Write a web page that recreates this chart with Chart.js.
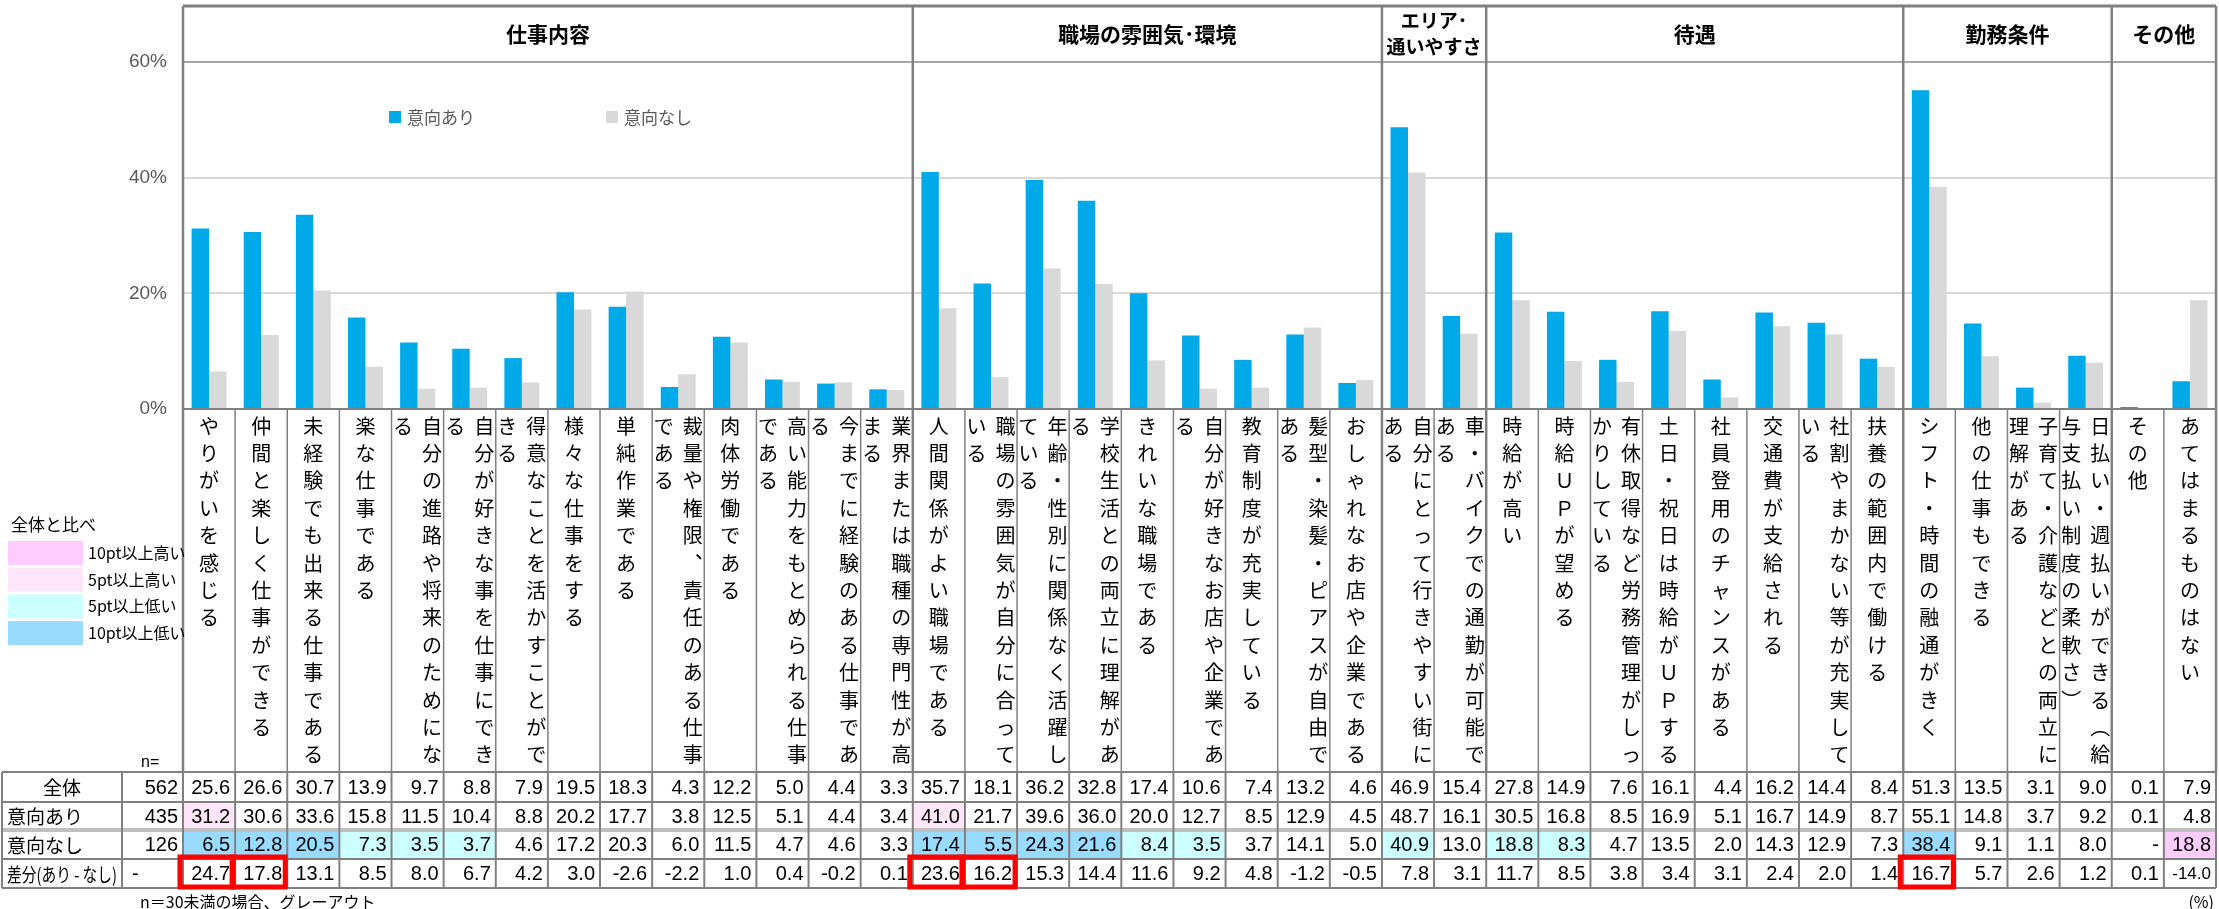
<!DOCTYPE html>
<html>
<head>
<meta charset="utf-8">
<script src="https://cdn.jsdelivr.net/npm/chart.js@4"></script>
<style>
	body { margin: 0; background: #fff; }
	canvas { display: block; }
</style>
</head>
<body>
<canvas id="chart" width="2219" height="909"></canvas>
<script>
const groups = ['仕事内容', '職場の雰囲気･環境', 'エリア･\n通いやすさ', '待遇', '勤務条件', 'その他']
const groupSizes = [14, 9, 2, 8, 4, 2]

const categories = [
	'やりがいを感じる', '仲間と楽しく仕事ができる', '未経験でも出来る仕事である', '楽な仕事である',
	'自分の進路や将来のためになる', '自分が好きな事を仕事にできる', '得意なことを活かすことができる',
	'様々な仕事をする', '単純作業である', '裁量や権限、責任のある仕事である', '肉体労働である',
	'高い能力をもとめられる仕事である', '今までに経験のある仕事である', '業界または職種の専門性が高まる',
	'人間関係がよい職場である', '職場の雰囲気が自分に合っている', '年齢・性別に関係なく活躍している',
	'学校生活との両立に理解がある', 'きれいな職場である', '自分が好きなお店や企業である',
	'教育制度が充実している', '髪型・染髪・ピアスが自由である', 'おしゃれなお店や企業である',
	'自分にとって行きやすい街にある', '車・バイクでの通勤が可能である',
	'時給が高い', '時給ＵＰが望める', '有休取得など労務管理がしっかりしている', '土日・祝日は時給がＵＰする',
	'社員登用のチャンスがある', '交通費が支給される', '社割やまかない等が充実している', '扶養の範囲内で働ける',
	'シフト・時間の融通がきく', '他の仕事もできる', '子育て・介護などとの両立に理解がある',
	'日払い・週払いができる（給与支払い制度の柔軟さ）',
	'その他', 'あてはまるものはない'
]

const total = [25.6, 26.6, 30.7, 13.9, 9.7, 8.8, 7.9, 19.5, 18.3, 4.3, 12.2, 5.0, 4.4, 3.3,
	35.7, 18.1, 36.2, 32.8, 17.4, 10.6, 7.4, 13.2, 4.6,
	46.9, 15.4,
	27.8, 14.9, 7.6, 16.1, 4.4, 16.2, 14.4, 8.4,
	51.3, 13.5, 3.1, 9.0,
	0.1, 7.9]
const withIntent = [31.2, 30.6, 33.6, 15.8, 11.5, 10.4, 8.8, 20.2, 17.7, 3.8, 12.5, 5.1, 4.4, 3.4,
	41.0, 21.7, 39.6, 36.0, 20.0, 12.7, 8.5, 12.9, 4.5,
	48.7, 16.1,
	30.5, 16.8, 8.5, 16.9, 5.1, 16.7, 14.9, 8.7,
	55.1, 14.8, 3.7, 9.2,
	0.1, 4.8]
const withoutIntent = [6.5, 12.8, 20.5, 7.3, 3.5, 3.7, 4.6, 17.2, 20.3, 6.0, 11.5, 4.7, 4.6, 3.3,
	17.4, 5.5, 24.3, 21.6, 8.4, 3.5, 3.7, 14.1, 5.0,
	40.9, 13.0,
	18.8, 8.3, 4.7, 13.5, 2.0, 14.3, 12.9, 7.3,
	38.4, 9.1, 1.1, 8.0,
	null, 18.8]
const diff = [24.7, 17.8, 13.1, 8.5, 8.0, 6.7, 4.2, 3.0, -2.6, -2.2, 1.0, 0.4, -0.2, 0.1,
	23.6, 16.2, 15.3, 14.4, 11.6, 9.2, 4.8, -1.2, -0.5,
	7.8, 3.1,
	11.7, 8.5, 3.8, 3.4, 3.1, 2.4, 2.0, 1.4,
	16.7, 5.7, 2.6, 1.2,
	0.1, -14.0]

const rowNames = ['全体', '意向あり', '意向なし', '差分(あり - なし)']
const sampleSizes = ['562', '435', '126', '-']
const boxedDiffs = [0, 1, 14, 15, 33]

const shadeLabels = ['10pt以上高い', '5pt以上高い', '5pt以上低い', '10pt以上低い']
const shadeColors = ['#FFCCFF', '#FFE5FA', '#CCFFFF', '#99DBFF']

const JP = '"Noto Sans CJK JP", sans-serif'
const NUM = '"Liberation Sans", "Noto Sans CJK JP", sans-serif'
const LINE = '#808080'

const verticalForms = { '、': '︑', '（': '︵', '）': '︶', '。': '︒' }

function shade(v, base) {
	if (v === null) return null
	const d = v - base
	if (d >= 10) return shadeColors[0]
	if (d >= 5) return shadeColors[1]
	if (d <= -10) return shadeColors[3]
	if (d <= -5) return shadeColors[2]
	return null
}

function line(ctx, x1, y1, x2, y2, color, width) {
	ctx.strokeStyle = color
	ctx.lineWidth = width
	ctx.beginPath()
	ctx.moveTo(x1, y1)
	ctx.lineTo(x2, y2)
	ctx.stroke()
}

const overlay = {
	id: 'overlay',
	afterDraw(chart) {
		const ctx = chart.ctx
		const x = chart.scales.x
		const area = chart.chartArea
		const colW = x.width / categories.length
		const colLeft = i => x.getPixelForValue(i) - colW / 2
		const L = area.left, R = area.right
		const headTop = 6
		const rows = [772, 802, 830, 859, 888]
		ctx.save()

		// group boundaries
		const bounds = [0]
		groupSizes.forEach(n => bounds.push(bounds[bounds.length - 1] + n))

		// header row
		line(ctx, L, headTop, R, headTop, LINE, 3)
		line(ctx, L, area.top, R, area.top, '#A6A6A6', 2)
		ctx.fillStyle = '#000'
		ctx.font = 'bold 21px ' + JP
		ctx.textAlign = 'center'
		ctx.textBaseline = 'middle'
		groups.forEach((g, k) => {
			const cx = (colLeft(bounds[k]) + colLeft(bounds[k + 1])) / 2
			const parts = g.split('\n')
			if (parts.length === 1) {
				ctx.fillText(g, cx, 34)
			} else {
				ctx.font = 'bold 19px ' + JP
				ctx.fillText(parts[0], cx, 21)
				ctx.fillText(parts[1], cx, 47)
				ctx.font = 'bold 21px ' + JP
			}
		})

		// group separators through header and plot
		bounds.forEach(b => line(ctx, colLeft(b), headTop, colLeft(b), area.bottom, LINE, 2.5))

		// legend inside plot
		ctx.font = '17px ' + JP
		ctx.textAlign = 'left'
		chart.data.datasets.forEach((ds, k) => {
			const lx = [389, 606][k]
			ctx.fillStyle = ds.backgroundColor
			ctx.fillRect(lx, 111, 12, 12)
			ctx.fillStyle = '#595959'
			ctx.fillText(ds.label, lx + 18, 118)
		})

		// vertical category labels
		line(ctx, L, area.bottom, R, area.bottom, LINE, 2)
		for (let i = 0; i <= categories.length; i++) {
			const isGroup = bounds.includes(i)
			line(ctx, colLeft(i), area.bottom, colLeft(i), rows[0], LINE, isGroup ? 2.5 : 1.5)
		}
		ctx.fillStyle = '#000'
		ctx.font = '20px ' + JP
		ctx.textAlign = 'center'
		ctx.textBaseline = 'middle'
		categories.forEach((c, i) => {
			const chars = Array.from(c)
			const cols = []
			for (let k = 0; k < chars.length; k += 13) cols.push(chars.slice(k, k + 13))
			const cx = x.getPixelForValue(i)
			cols.forEach((col, j) => {
				const lx = cols.length === 1 ? cx : cx + 14.5 - j * 29
				col.forEach((ch, k) => {
					ctx.fillText(verticalForms[ch] || ch, lx, area.bottom + 17 + k * 27.4)
				})
			})
		})
		ctx.font = '16px ' + NUM
		ctx.textAlign = 'left'
		ctx.fillText('n=', 141, 763)

		// table
		const tableLeft = 2, nLeft = 122
		const data = [total, withIntent, withoutIntent, diff]
		data.forEach((vals, r) => {
			if (r === 1 || r === 2) {
				vals.forEach((v, i) => {
					const col = shade(v, total[i])
					if (col) {
						ctx.fillStyle = col
						ctx.fillRect(colLeft(i), rows[r], colW, rows[r + 1] - rows[r])
					}
				})
			}
		})
		ctx.textBaseline = 'middle'
		data.forEach((vals, r) => {
			const cy = (rows[r] + rows[r + 1]) / 2 + 1
			ctx.fillStyle = '#000'
			ctx.font = '19px ' + JP
			if (r === 0) {
				ctx.textAlign = 'center'
				ctx.fillText(rowNames[r], (tableLeft + nLeft) / 2, cy)
			} else {
				ctx.textAlign = 'left'
				ctx.fillText(rowNames[r], tableLeft + 5, cy, nLeft - tableLeft - 10)
			}
			ctx.font = '20px ' + NUM
			if (r === 3) {
				ctx.textAlign = 'left'
				ctx.fillText(sampleSizes[r], nLeft + 10, cy)
			} else {
				ctx.textAlign = 'right'
				ctx.fillText(sampleSizes[r], L - 5, cy)
			}
			ctx.textAlign = 'right'
			vals.forEach((v, i) => {
				const t = v === null ? '-' : v.toFixed(1)
				ctx.font = (r === 3 && v <= -10 ? '17px ' : '20px ') + NUM
				ctx.fillText(t, colLeft(i) + colW - 5, cy)
			})
		})
		rows.forEach((y, k) => {
			if (k === 2) line(ctx, tableLeft, y, R, y, '#BFBFBF', 4)
			else line(ctx, tableLeft, y, R, y, LINE, 2)
		})
		;[tableLeft, nLeft].forEach(vx => line(ctx, vx, rows[0], vx, rows[4], LINE, 2))
		for (let i = 0; i <= categories.length; i++) {
			line(ctx, colLeft(i), rows[0], colLeft(i), rows[4], LINE, 2)
		}

		// red boxes on the difference row
		ctx.strokeStyle = '#FF0000'
		ctx.lineWidth = 5
		boxedDiffs.forEach(i => {
			ctx.strokeRect(colLeft(i) - 3, rows[3] - 2, colW + 1, rows[4] - rows[3] + 1)
		})

		// shading legend
		ctx.fillStyle = '#000'
		ctx.font = '17px ' + JP
		ctx.textAlign = 'left'
		ctx.fillText('全体と比べ', 11, 525)
		shadeLabels.forEach((s, k) => {
			const sy = 541 + k * 26.7
			ctx.fillStyle = shadeColors[k]
			ctx.fillRect(8, sy, 75, 24)
			ctx.fillStyle = '#000'
			ctx.font = '16px ' + JP
			ctx.fillText(s, 88, sy + 12)
		})

		// footnotes
		ctx.font = '16px ' + JP
		ctx.fillText('n＝30未満の場合、グレーアウト', 140, 902)
		ctx.textAlign = 'right'
		ctx.fillText('(%)', 2214, 902)

		ctx.restore()
	}
}

const ctxChart = document.getElementById('chart')
const chart = new Chart(ctxChart, {
	type: 'bar',
	data: {
		labels: categories,
		datasets: [{
			label: '意向あり',
			data: withIntent,
			backgroundColor: '#00A9E8',
			categoryPercentage: 0.67,
			barPercentage: 1,
			minBarLength: 2
		},
		{
			label: '意向なし',
			data: withoutIntent,
			backgroundColor: '#D9D9D9',
			categoryPercentage: 0.67,
			barPercentage: 1
		}]
	},
	options: {
		responsive: false,
		animation: false,
		layout: { padding: { left: 123, right: 3, top: 62, bottom: 500 } },
		plugins: {
			legend: { display: false },
			tooltip: { enabled: false }
		},
		scales: {
			x: { display: false },
			y: {
				min: 0,
				max: 60,
				afterFit: scale => { scale.width = 60 },
				border: { display: false },
				grid: { color: '#D9D9D9', lineWidth: 2, drawTicks: false },
				ticks: {
					stepSize: 20,
					padding: 16,
					color: '#595959',
					font: { family: NUM, size: 19 },
					callback: v => v + '%'
				}
			}
		}
	},
	plugins: [overlay]
})
</script>
</body>
</html>
